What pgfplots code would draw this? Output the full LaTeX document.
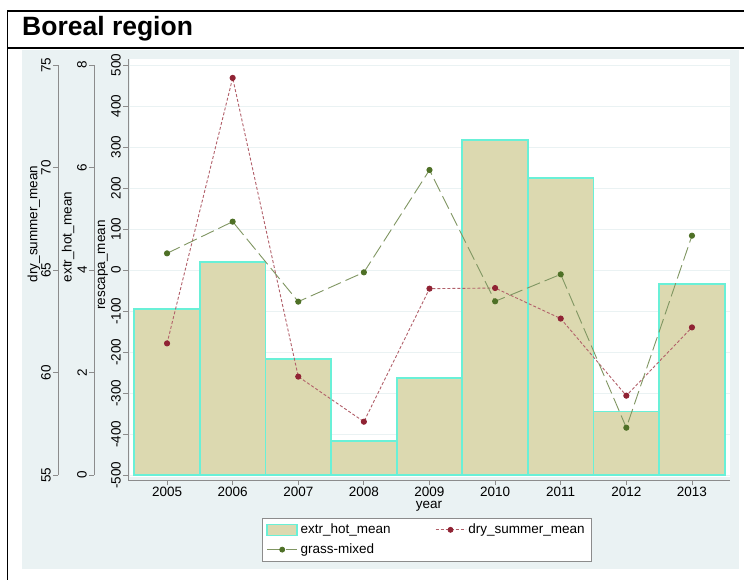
\documentclass[border=0pt]{standalone}
\usepackage{pgfplots}
\pgfplotsset{compat=1.18}
\usepackage{fontspec}
\setmainfont{Liberation Sans}
\definecolor{bgc}{RGB}{234,242,243}
\definecolor{barfill}{RGB}{220,217,176}
\definecolor{baredge}{RGB}{105,240,215}
\definecolor{redm}{RGB}{144,35,52}
\definecolor{redl}{RGB}{178,96,106}
\definecolor{grnm}{RGB}{78,112,38}
\definecolor{grnl}{RGB}{128,150,98}
\definecolor{axgray}{RGB}{140,140,140}
\definecolor{gridc}{RGB}{234,242,243}

\newcommand{\fs}{\fontsize{13.5}{16}\selectfont}

\pgfplotsset{
  basestyle/.style={
    scale only axis,
    anchor=south west,
    /pgf/number format/assume math mode=true,
    /pgf/number format/1000 sep={},
    tick label style={font=\fs, black},
    label style={font=\fs},
    axis line style={axgray, line width=0.8pt, -},
    major tick style={axgray, line width=0.8pt},
    major tick length=5pt,
    tick align=outside,
  },
  hiddenstyle/.style={
    scale only axis, anchor=south west, hide axis,
    width=602pt, height=421pt, xmin=2004.405, xmax=2013.58,
  },
}

\pgfplotstableread{
year extr dry grass
2005 3.24 61.42 40.6
2006 4.16 74.37 117.9
2007 2.26 59.80 -77.2
2008 0.66 57.60 -5.7
2009 1.89 64.09 243.9
2010 6.54 64.12 -76.4
2011 5.80 62.63 -10.6
2012 1.24 58.87 -384.6
2013 3.73 62.20 83.7
}\datatable

\begin{document}
\fs
\begin{tikzpicture}
\begin{scope}[x=1pt,y=1pt]
\useasboundingbox (0,0) rectangle (744,-580);
\fill[white] (0,0) rectangle (744,-580);
\fill[bgc] (22,-50) rectangle (739,-569);
\fill[white] (130,-59) rectangle (730,-477);
\draw[line width=1.5pt] (7.5,-580) -- (7.5,-11) -- (744,-11);
\draw[line width=1.5pt] (7.5,-48) -- (744,-48);
\node[anchor=west, inner sep=0pt, font=\bfseries\fontsize{26.5}{30}\selectfont] at (22,-29) {Boreal region};
\end{scope}

% main axis: rescapa_mean, grid, x axis, legend
\begin{axis}[basestyle,
  at={(128pt,-480pt)}, width=602pt, height=421pt,
  xmin=2004.405, xmax=2013.58, ymin=-512.2, ymax=514.6,
  axis x line*=bottom, axis y line*=left,
  xtick={2005,2006,...,2013},
  ytick={-500,-400,...,500},
  yticklabel style={rotate=90, anchor=south, inner sep=2pt},
  xticklabel style={inner sep=1.5pt},
  ymajorgrids, major grid style={gridc, line width=0.8pt},
  xlabel={year},
  xlabel style={inner sep=0pt, yshift=-3pt},
  legend columns=2,
  legend style={at={(0.2226,-0.0903)}, anchor=north west,
    draw=axgray, line width=0.8pt, fill=white,
    font=\fs,
    /tikz/every even column/.append style={column sep=42pt},
    row sep=3pt, inner xsep=4pt, inner ysep=3pt,
    nodes={inner sep=2.5pt, anchor=west}},
  legend cell align=left,
]
\addplot[draw=none, forget plot] coordinates {(2005,0)};
\addlegendimage{legend image code/.code={\draw[fill=barfill, draw=baredge, line width=1.6pt] (0pt,-5.5pt) rectangle (30pt,5.5pt);}}
\addlegendentry{extr\_hot\_mean}
\addlegendimage{legend image code/.code={\draw[redl, line width=0.9pt, dash pattern=on 3pt off 2pt] (0pt,0pt) -- (30pt,0pt); \fill[redm] (15pt,0pt) circle (2.5pt);}}
\addlegendentry{dry\_summer\_mean}
\addlegendimage{legend image code/.code={\draw[grnl, line width=0.9pt, dash pattern=on 14pt off 5pt] (0pt,0pt) -- (30pt,0pt); \fill[grnm] (15pt,0pt) circle (2.5pt);}}
\addlegendentry{grass-mixed}
\end{axis}

% bars: extr_hot_mean (fill, then outlines on top)
\begin{axis}[hiddenstyle, at={(128pt,-480pt)}, ymin=-0.0976, ymax=8.117]
\addplot[ybar, bar width=1, fill=barfill, draw=none] table[x=year, y=extr] {\datatable};
\addplot[ybar, bar width=1, fill=none, draw=baredge, line width=1.8pt, forget plot] table[x=year, y=extr] {\datatable};
\end{axis}

% dry_summer_mean line
\begin{axis}[hiddenstyle, at={(128pt,-480pt)}, ymin=54.756, ymax=75.293]
\addplot[redl, line width=0.9pt, dash pattern=on 3pt off 2pt, mark=*, mark size=2.6pt, mark options={solid, fill=redm, draw=redm}] table[x=year, y=dry] {\datatable};
\end{axis}

% grass-mixed line (rescapa scale)
\begin{axis}[hiddenstyle, at={(128pt,-480pt)}, ymin=-512.2, ymax=514.6]
\addplot[grnl, line width=0.9pt, dash pattern=on 14pt off 5pt, mark=*, mark size=2.6pt, mark options={solid, fill=grnm, draw=grnm}] table[x=year, y=grass] {\datatable};
\end{axis}

% extr_hot_mean spine
\begin{axis}[basestyle, at={(94pt,-475pt)}, width=10pt, height=410pt,
  xmin=0, xmax=1, ymin=0, ymax=8, ytick={0,2,4,6,8},
  hide x axis, axis y line*=left,
  yticklabel style={rotate=90, anchor=south, inner sep=2pt}]
\addplot[draw=none] coordinates {(0.5,4)};
\end{axis}

% dry_summer_mean spine
\begin{axis}[basestyle, at={(58pt,-475pt)}, width=10pt, height=410pt,
  xmin=0, xmax=1, ymin=55, ymax=75, ytick={55,60,65,70,75},
  hide x axis, axis y line*=left,
  yticklabel style={rotate=90, anchor=south, inner sep=2pt}]
\addplot[draw=none] coordinates {(0.5,65)};
\end{axis}

\begin{scope}[x=1pt,y=1pt]
\node[rotate=90, inner sep=0pt] at (34,-224) {dry\_summer\_mean};
\node[rotate=90, inner sep=0pt] at (68,-237) {extr\_hot\_mean};
\node[rotate=90, inner sep=0pt] at (103,-265) {rescapa\_mean};
\end{scope}
\end{tikzpicture}
\end{document}
